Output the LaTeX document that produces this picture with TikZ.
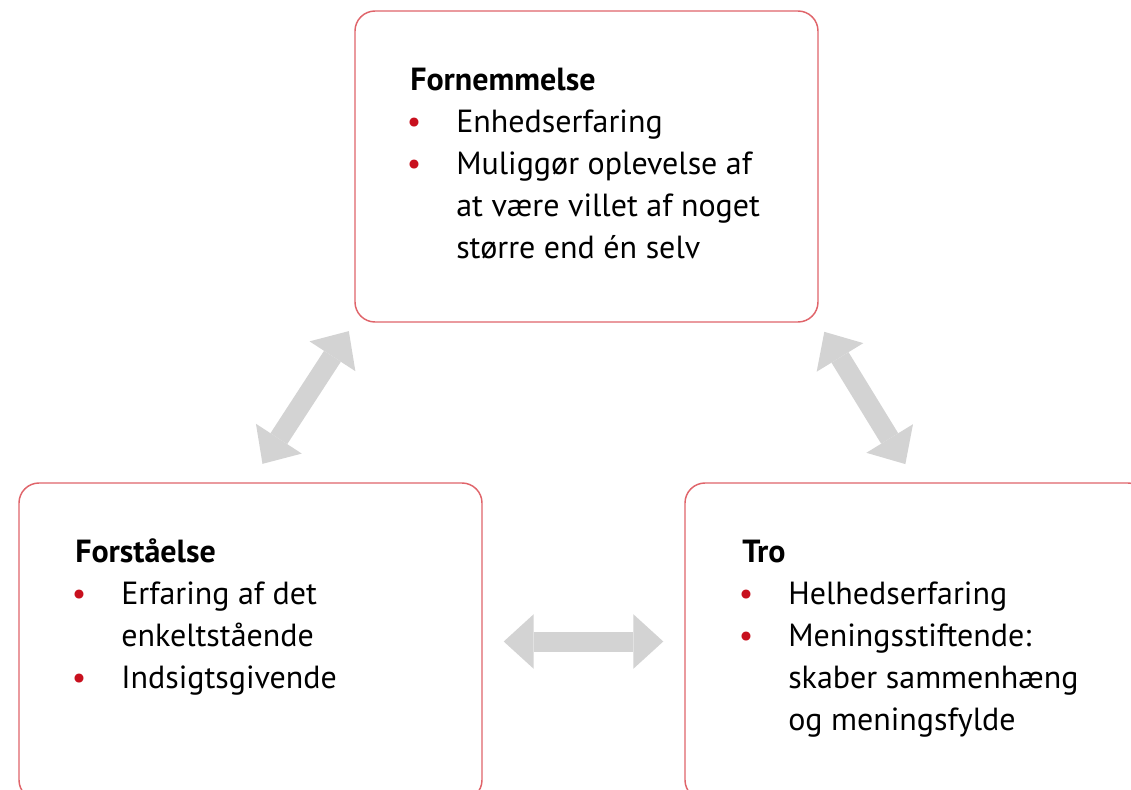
\documentclass[tikz,border=0pt]{standalone}
\usepackage{fontspec}
\setmainfont{PT Sans}
\usetikzlibrary{arrows.meta}
\definecolor{boxred}{RGB}{224,100,106}
\definecolor{dotred}{RGB}{200,16,30}
\definecolor{arrowgray}{RGB}{211,211,211}
\newcommand{\bul}{\hspace*{-2.5pt}\makebox[37pt][l]{\textcolor{dotred}{\textbullet}}}
\newcommand{\cont}{\hspace*{34.5pt}}
\begin{document}
\begin{tikzpicture}[x=0.75pt,y=0.75pt,yscale=-1,xscale=1,
        box/.style={draw=boxred, line width=1.1pt, rounded corners=15pt, inner sep=0pt, minimum width=347.25pt, minimum height=237.75pt},
        txt/.style={anchor=base west, align=left, inner sep=0pt, font=\fontsize{24}{31.5}\selectfont},
        fat/.style={draw=arrowgray, line width=15pt, {Triangle[length=22.5pt,width=41pt,line width=0pt]}-{Triangle[length=22.5pt,width=41pt,line width=0pt]}}]
        \useasboundingbox (0,0) rectangle (1131,789);
        \clip (0,0) rectangle (1131,789);
        \fill[white] (0,0) rectangle (1131,789);

        %Rounded Rect [top]
        \node [box, minimum height=233.25pt] (fornem) at (586.5,166.5) {};
        %Rounded Rect [bottom left]
        \node [box] (forstaa) at (250.5,641.5) {};
        %Rounded Rect [bottom right]
        \node [box] (tro) at (916.5,641.5) {};

        %Double Arrows
        \draw [fat, shorten <=16.5pt, shorten >=7.5pt] (forstaa.north) -- (fornem.south west) ;
        \draw [fat, shorten <=8pt, shorten >=16pt] (fornem.south east) -- (tro.north) ;
        \draw [fat, shorten <=15.75pt, shorten >=15.75pt] (forstaa.east) -- (tro.west) ;

        % Text Node (base = last line)
        \node [txt] (fornemtxt) at (410,258) {\textbf{Fornemmelse}\\ \bul Enhedserfaring\\ \bul Muliggør oplevelse af\\ \cont at være villet af noget\\ \cont større end én selv};
        % Text Node
        \node [txt] (forstaatxt) at (75,688) {\textbf{Forståelse}\\ \bul Erfaring af det\\ \cont enkeltstående\\ \bul Indsigtsgivende};
        % Text Node
        \node [txt] (trotxt) at (742,730) {\textbf{Tro}\\ \bul Helhedserfaring\\ \bul Meningsstiftende:\\ \cont skaber sammenhæng\\ \cont og meningsfylde};
\end{tikzpicture}
\end{document}
